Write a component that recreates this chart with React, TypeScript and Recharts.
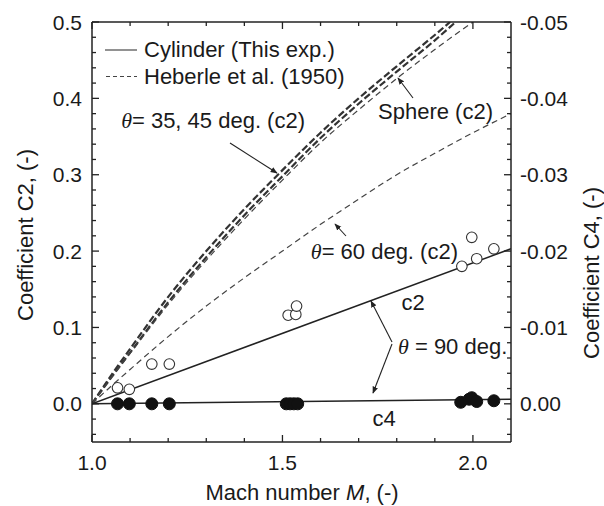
import React from 'react';
import { ComposedChart, Line, Scatter, XAxis, YAxis } from 'recharts';

// ---------- data ----------
// Cylinder (this exp.), theta = 90 deg, coefficient C2 (open circles)
const cylC2Mach = [1.067, 1.098, 1.157, 1.203, 1.515, 1.535, 1.537, 1.971, 1.997, 2.01, 2.055];
const cylC2Val = [0.021, 0.019, 0.052, 0.052, 0.116, 0.117, 0.128, 0.18, 0.218, 0.19, 0.203];
// Cylinder (this exp.), theta = 90 deg, coefficient C4 (filled circles, right axis)
const cylC4Mach = [1.067, 1.098, 1.157, 1.203, 1.51, 1.52, 1.53, 1.54, 1.968, 1.99, 1.997, 2.01, 2.055];
const cylC4Val = [0, 0, 0, 0, 0, 0, 0, 0, -0.0002, -0.0006, -0.0008, -0.0003, -0.0004];
// fitted lines (solid)
const fitMach = [1.0, 2.1];
const fitC2Val = [0, 0.203];
const fitC4Val = [0, -0.0006];
// Heberle et al. (1950) curves (dashed)
const heb35Mach = [1.0, 1.05, 1.1, 1.2, 1.3, 1.4, 1.5, 1.6, 1.7, 1.8, 1.9, 1.94];
const heb35Val = [0, 0.037, 0.072, 0.14, 0.2, 0.255, 0.306, 0.355, 0.4, 0.442, 0.483, 0.5];
const heb45Mach = [1.0, 1.05, 1.1, 1.2, 1.3, 1.4, 1.5, 1.6, 1.7, 1.8, 1.9, 1.955];
const heb45Val = [0, 0.034, 0.067, 0.133, 0.192, 0.247, 0.298, 0.348, 0.393, 0.435, 0.476, 0.5];
const sphereMach = [1.0, 1.05, 1.1, 1.2, 1.3, 1.4, 1.5, 1.6, 1.7, 1.8, 1.9, 2.0];
const sphereVal = [0, 0.034, 0.066, 0.13, 0.188, 0.242, 0.293, 0.342, 0.385, 0.426, 0.464, 0.5];
const heb60Mach = [1.0, 1.05, 1.1, 1.2, 1.3, 1.4, 1.5, 1.6, 1.7, 1.8, 1.9, 2.0, 2.1];
const heb60Val = [0, 0.023, 0.045, 0.088, 0.128, 0.165, 0.2, 0.235, 0.268, 0.3, 0.328, 0.355, 0.38];

// ticks
const xTicks = [1.0, 1.1, 1.2, 1.3, 1.4, 1.5, 1.6, 1.7, 1.8, 1.9, 2.0];
const xMajorLabels = ['1.0', '1.5', '2.0'];
const leftTicks = [-0.04, -0.02, 0, 0.02, 0.04, 0.06, 0.08, 0.1, 0.12, 0.14, 0.16, 0.18, 0.2, 0.22, 0.24, 0.26, 0.28, 0.3, 0.32, 0.34, 0.36, 0.38, 0.4, 0.42, 0.44, 0.46, 0.48, 0.5];
const rightTicks = [-0.05, -0.048, -0.046, -0.044, -0.042, -0.04, -0.038, -0.036, -0.034, -0.032, -0.03, -0.028, -0.026, -0.024, -0.022, -0.02, -0.018, -0.016, -0.014, -0.012, -0.01, -0.008, -0.006, -0.004, -0.002, 0, 0.002, 0.004];

const zip = (xs: number[], ys: number[]) => xs.map((x, i) => ({ x, y: ys[i] }));

const FONT = '"Liberation Sans", Arial, Helvetica, sans-serif';
const SERIF = '"Liberation Serif", "Times New Roman", serif';
const AX = '#222';
const TXT = '#1a1a1a';
const W = 604;
const H = 506;

const near = (a: number, b: number) => Math.abs(a - b) < 1e-6;

const BottomTick = (p: any) => {
  const { x, y, payload } = p;
  const v = payload.value as number;
  const label = v.toFixed(1);
  const major = xMajorLabels.includes(label);
  return (
    <g>
      <line x1={x} y1={y} x2={x} y2={y - (major ? 7 : 4)} stroke={AX} strokeWidth={1.3} />
      {major && (
        <text x={x} y={y + 28} textAnchor="middle" fontSize={21} fontFamily={FONT} fill={TXT}>
          {label}
        </text>
      )}
    </g>
  );
};

const TopTick = (p: any) => {
  const { x, y, payload } = p;
  const v = payload.value as number;
  const major = xMajorLabels.includes(v.toFixed(1));
  return <line x1={x} y1={y} x2={x} y2={y + (major ? 7 : 4)} stroke={AX} strokeWidth={1.3} />;
};

const LeftTick = (p: any) => {
  const { x, y, payload } = p;
  const v = payload.value as number;
  const major = near(v * 10, Math.round(v * 10));
  return (
    <g>
      <line x1={x} y1={y} x2={x + (major ? 7 : 4)} y2={y} stroke={AX} strokeWidth={1.3} />
      {major && (
        <text x={x - 10} y={y + 7.5} textAnchor="end" fontSize={21} fontFamily={FONT} fill={TXT}>
          {v.toFixed(1)}
        </text>
      )}
    </g>
  );
};

const RightTick = (p: any) => {
  const { x, y, payload } = p;
  const v = payload.value as number;
  const major = near(v * 100, Math.round(v * 100));
  const label = near(v, 0) ? '0.00' : v.toFixed(2);
  return (
    <g>
      <line x1={x} y1={y} x2={x - (major ? 7 : 4)} y2={y} stroke={AX} strokeWidth={1.3} />
      {major && (
        <text x={x + 9} y={y + 7.5} textAnchor="start" fontSize={21} fontFamily={FONT} fill={TXT}>
          {label}
        </text>
      )}
    </g>
  );
};

const OpenCircle = (p: any) => <circle cx={p.cx} cy={p.cy} r={5.3} fill="#fff" stroke="#333" strokeWidth={1.1} />;
const FilledCircle = (p: any) => <circle cx={p.cx} cy={p.cy} r={6} fill="#111" stroke="#111" strokeWidth={1} />;

const Overlay = () => (
  <svg width={W} height={H} style={{ position: 'absolute', left: 0, top: 0, pointerEvents: 'none' }}>
    <defs>
      <marker id="ah" viewBox="0 0 10 10" refX="9" refY="5" markerWidth="7" markerHeight="7" orient="auto-start-reverse" markerUnits="userSpaceOnUse">
        <path d="M0,1 L10,5 L0,9 z" fill="#222" />
      </marker>
    </defs>
    {/* legend */}
    <line x1={105} y1={50} x2={137} y2={50} stroke="#777" strokeWidth={1.6} />
    <text x={144} y={57} fontSize={22} fontFamily={FONT} fill={TXT}>Cylinder (This exp.)</text>
    <line x1={106} y1={76.5} x2={137} y2={76.5} stroke="#444" strokeWidth={1.2} strokeDasharray="4 3" />
    <text x={144} y={84} fontSize={22} fontFamily={FONT} fill={TXT}>Heberle et al. (1950)</text>

    {/* theta = 35, 45 */}
    <text x={305} y={128} textAnchor="end" fontSize={22} fontFamily={FONT} fill={TXT}>
      <tspan fontFamily={SERIF} fontStyle="italic">θ</tspan>= 35, 45 deg. (c2)
    </text>
    <line x1={230} y1={143} x2={277} y2={173} stroke="#222" strokeWidth={1.1} markerEnd="url(#ah)" />

    {/* sphere */}
    <text x={493} y={118.5} textAnchor="end" fontSize={22} fontFamily={FONT} fill={TXT}>Sphere (c2)</text>
    <line x1={413} y1={98} x2={398} y2={78} stroke="#222" strokeWidth={1.1} markerEnd="url(#ah)" />

    {/* theta = 60 */}
    <text x={458} y={258.5} textAnchor="end" fontSize={22} fontFamily={FONT} fill={TXT}>
      <tspan fontFamily={SERIF} fontStyle="italic">θ</tspan>= 60 deg. (c2)
    </text>
    <line x1={346} y1={236} x2={335} y2={224} stroke="#222" strokeWidth={1.1} markerEnd="url(#ah)" />

    {/* c2 / c4 labels */}
    <text x={413} y={310} textAnchor="middle" fontSize={22} fontFamily={FONT} fill={TXT}>c2</text>
    <text x={384} y={425.5} textAnchor="middle" fontSize={22} fontFamily={FONT} fill={TXT}>c4</text>

    {/* theta = 90 */}
    <text x={398} y={354} fontSize={22} fontFamily={FONT} fill={TXT}>
      <tspan fontFamily={SERIF} fontStyle="italic">θ</tspan> = 90 deg.
    </text>
    <line x1={392} y1={342} x2={371} y2={301} stroke="#222" strokeWidth={1.1} markerEnd="url(#ah)" />
    <line x1={392} y1={344} x2={373} y2={393} stroke="#222" strokeWidth={1.1} markerEnd="url(#ah)" />

    {/* axis titles */}
    <text x={302} y={500} textAnchor="middle" fontSize={22} fontFamily={FONT} fill={TXT}>
      Mach number <tspan fontStyle="italic">M</tspan>, (-)
    </text>
    <text transform="translate(32.5,235) rotate(-90)" textAnchor="middle" fontSize={22} fontFamily={FONT} fill={TXT}>
      Coefficient C2, (-)
    </text>
    <text transform="translate(599,273) rotate(-90)" textAnchor="middle" fontSize={22} fontFamily={FONT} fill={TXT}>
      Coefficient C4, (-)
    </text>
  </svg>
);

export default function App() {
  return (
    <div style={{ position: 'absolute', left: 0, top: 0, width: W, height: H, background: '#fff' }}>
      <ComposedChart width={W} height={H} margin={{ top: 21, right: 92, bottom: 63, left: 91 }}>
        <XAxis xAxisId="b" dataKey="x" type="number" orientation="bottom" domain={[1, 2.1]} ticks={xTicks}
          interval={0} height={1} tickSize={0} tickMargin={0} tickLine={false} tick={<BottomTick />}
          axisLine={{ stroke: AX, strokeWidth: 1.5 }} allowDataOverflow />
        <XAxis xAxisId="t" dataKey="x" type="number" orientation="top" domain={[1, 2.1]} ticks={xTicks}
          interval={0} height={1} tickSize={0} tickMargin={0} tickLine={false} tick={<TopTick />}
          axisLine={{ stroke: AX, strokeWidth: 1.5 }} allowDataOverflow />
        <YAxis yAxisId="l" type="number" orientation="left" domain={[-0.05, 0.5]} ticks={leftTicks}
          interval={0} width={1} tickSize={0} tickMargin={0} tickLine={false} tick={<LeftTick />}
          axisLine={{ stroke: AX, strokeWidth: 1.5 }} allowDataOverflow />
        <YAxis yAxisId="r" type="number" orientation="right" domain={[-0.05, 0.005]} reversed ticks={rightTicks}
          interval={0} width={1} tickSize={0} tickMargin={0} tickLine={false} tick={<RightTick />}
          axisLine={{ stroke: AX, strokeWidth: 1.5 }} allowDataOverflow />

        <Line data={zip(heb35Mach, heb35Val)} dataKey="y" xAxisId="b" yAxisId="l" type="monotone"
          stroke="#333" strokeWidth={2.2} strokeDasharray="7 3" dot={false} isAnimationActive={false} />
        <Line data={zip(heb45Mach, heb45Val)} dataKey="y" xAxisId="b" yAxisId="l" type="monotone"
          stroke="#333" strokeWidth={2.2} strokeDasharray="7 3" dot={false} isAnimationActive={false} />
        <Line data={zip(sphereMach, sphereVal)} dataKey="y" xAxisId="b" yAxisId="l" type="monotone"
          stroke="#444" strokeWidth={1.2} strokeDasharray="6 4" dot={false} isAnimationActive={false} />
        <Line data={zip(heb60Mach, heb60Val)} dataKey="y" xAxisId="b" yAxisId="l" type="monotone"
          stroke="#444" strokeWidth={1.2} strokeDasharray="6 4" dot={false} isAnimationActive={false} />
        <Line data={zip(fitMach, fitC2Val)} dataKey="y" xAxisId="b" yAxisId="l" type="linear"
          stroke="#222" strokeWidth={1.5} dot={false} isAnimationActive={false} />
        <Line data={zip(fitMach, fitC4Val)} dataKey="y" xAxisId="b" yAxisId="r" type="linear"
          stroke="#222" strokeWidth={1.5} dot={false} isAnimationActive={false} />

        <Scatter data={zip(cylC2Mach, cylC2Val)} dataKey="y" xAxisId="b" yAxisId="l"
          shape={OpenCircle} isAnimationActive={false} />
        <Scatter data={zip(cylC4Mach, cylC4Val)} dataKey="y" xAxisId="b" yAxisId="r"
          shape={FilledCircle} isAnimationActive={false} />
      </ComposedChart>
      <Overlay />
    </div>
  );
}
